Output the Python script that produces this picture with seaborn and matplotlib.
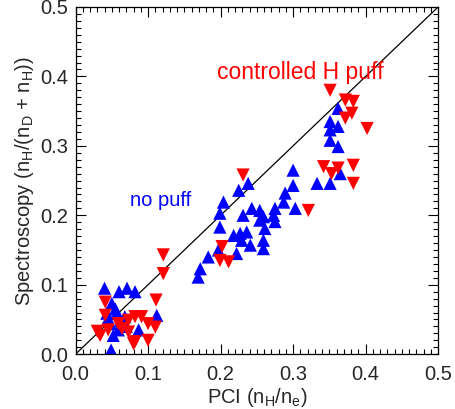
import matplotlib
matplotlib.use("Agg")
import matplotlib.pyplot as plt
import seaborn as sns
import pandas as pd
from matplotlib.ticker import MultipleLocator, FormatStrFormatter

# PCI hydrogen fraction vs spectroscopic H/(D+H), no-puff shots
nopuff_pci = [0.040, 0.060, 0.071, 0.082, 0.050, 0.043, 0.057, 0.068, 0.048, 0.059,
              0.052, 0.087, 0.049, 0.112, 0.055, 0.062, 0.045, 0.070,
              0.238, 0.225, 0.204, 0.199, 0.199, 0.231, 0.243, 0.254, 0.259, 0.254,
              0.275, 0.273, 0.275, 0.289, 0.287, 0.300, 0.300, 0.303, 0.261, 0.218,
              0.227, 0.236, 0.229, 0.241, 0.259, 0.259, 0.222, 0.197, 0.183, 0.172,
              0.169, 0.333, 0.351, 0.365,
              0.362, 0.351, 0.362, 0.351, 0.351, 0.362]
nopuff_spec = [0.095, 0.090, 0.095, 0.090, 0.073, 0.059, 0.059, 0.054, 0.044, 0.035,
               0.027, 0.035, 0.006, 0.056, 0.065, 0.048, 0.052, 0.040,
               0.246, 0.236, 0.219, 0.203, 0.183, 0.200, 0.210, 0.207, 0.198, 0.193,
               0.210, 0.200, 0.191, 0.232, 0.219, 0.265, 0.243, 0.210, 0.181, 0.171,
               0.174, 0.176, 0.164, 0.157, 0.164, 0.152, 0.145, 0.150, 0.140, 0.123,
               0.111, 0.246, 0.246, 0.260,
               0.354, 0.335, 0.328, 0.323, 0.308, 0.299]

# controlled H puff shots
puff_pci = [0.041, 0.041, 0.030, 0.034, 0.045, 0.064, 0.073, 0.082, 0.073, 0.080,
            0.121, 0.111, 0.082, 0.100, 0.091, 0.100, 0.110, 0.059, 0.121,
            0.231, 0.202, 0.199, 0.211, 0.321, 0.342, 0.353, 0.362, 0.383, 0.383,
            0.351, 0.372, 0.383, 0.381, 0.372, 0.402]
puff_spec = [0.075, 0.056, 0.033, 0.027, 0.035, 0.037, 0.049, 0.054, 0.032, 0.015,
             0.116, 0.078, 0.018, 0.020, 0.054, 0.044, 0.039, 0.044, 0.143,
             0.258, 0.155, 0.135, 0.133, 0.207, 0.270, 0.260, 0.268, 0.272, 0.246,
             0.380, 0.366, 0.364, 0.347, 0.340, 0.325]

df_nopuff = pd.DataFrame({"pci": nopuff_pci, "spec": nopuff_spec})
df_puff = pd.DataFrame({"pci": puff_pci, "spec": puff_spec})

sns.set_style("ticks")
plt.rcParams["font.family"] = ["Liberation Sans", "DejaVu Sans"]
plt.rcParams["mathtext.fontset"] = "custom"
plt.rcParams["mathtext.rm"] = "Liberation Sans"
plt.rcParams["mathtext.it"] = "Liberation Sans"

fig = plt.figure(figsize=(4.55, 4.09), dpi=100)
ax = fig.add_axes([0.166, 0.134, 0.797, 0.849])

ax.plot([0, 0.5], [0, 0.5], color="black", lw=0.9, zorder=1)

sns.scatterplot(data=df_nopuff, x="pci", y="spec", marker="^", s=90,
                color="#0000ff", edgecolor="none", ax=ax, zorder=2)
sns.scatterplot(data=df_puff, x="pci", y="spec", marker="v", s=90,
                color="#ff0000", edgecolor="none", ax=ax, zorder=3)

ax.text(0.075, 0.222, "no puff", color="#0000ff", fontsize=14.5, va="center")
ax.text(0.195, 0.406, "controlled H puff", color="#ff0000", fontsize=16.5, va="center")

ax.set_xlim(0, 0.5)
ax.set_ylim(0, 0.5)
ax.xaxis.set_major_locator(MultipleLocator(0.1))
ax.yaxis.set_major_locator(MultipleLocator(0.1))
ax.xaxis.set_minor_locator(MultipleLocator(0.01))
ax.yaxis.set_minor_locator(MultipleLocator(0.01))
ax.xaxis.set_major_formatter(FormatStrFormatter("%.1f"))
ax.yaxis.set_major_formatter(FormatStrFormatter("%.1f"))
ax.tick_params(which="both", direction="in", top=True, right=True,
               color="black", width=0.8, labelsize=14.5)
ax.tick_params(which="major", length=7)
ax.tick_params(which="minor", length=3.5)
ax.tick_params(axis="x", which="major", pad=8)
ax.tick_params(axis="y", which="major", pad=5)
for sp in ax.spines.values():
    sp.set_linewidth(0.9)
    sp.set_color("black")

ax.set_xlabel(r"PCI (n$_{\rm H}$/n$_{\rm e}$)", fontsize=14.5, labelpad=1)
ax.set_ylabel(r"Spectroscopy (n$_{\rm H}$/(n$_{\rm D}$ + n$_{\rm H}$))", fontsize=14.5, labelpad=3)

fig.savefig("out.png", dpi=100)
